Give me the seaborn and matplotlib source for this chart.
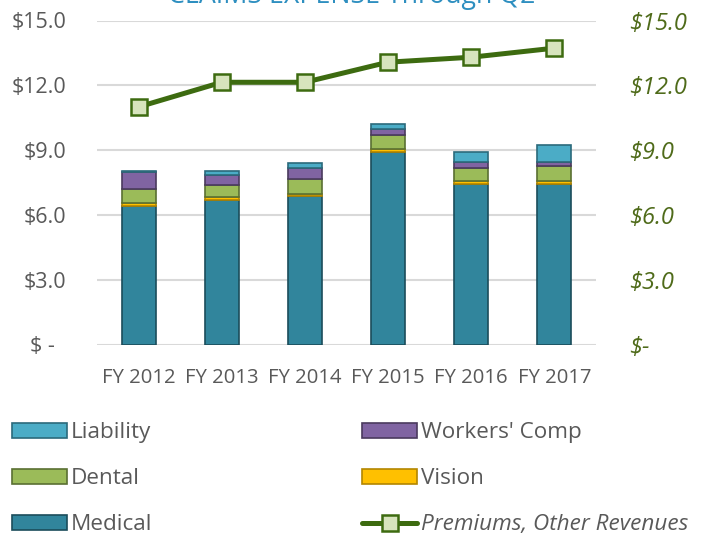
import numpy as np
import pandas as pd
import matplotlib
matplotlib.use("Agg")
import matplotlib.pyplot as plt
import seaborn as sns

years = ["FY 2012", "FY 2013", "FY 2014", "FY 2015", "FY 2016", "FY 2017"]
medical = [6.42, 6.71, 6.87, 8.92, 7.42, 7.42]
vision = [0.13, 0.14, 0.08, 0.11, 0.13, 0.13]
dental = [0.65, 0.52, 0.70, 0.66, 0.60, 0.70]
workers_comp = [0.80, 0.50, 0.50, 0.28, 0.30, 0.20]
liability = [0.05, 0.15, 0.26, 0.23, 0.47, 0.77]
premiums = [11.0, 12.14, 12.14, 13.07, 13.3, 13.72]
y_ticks = [0, 3, 6, 9, 12, 15]
left_labels = ["$ -  ", "$3.0", "$6.0", "$9.0", "$12.0", "$15.0"]
right_labels = ["$-", "$3.0", "$6.0", "$9.0", "$12.0", "$15.0"]
title = "CLAIMS EXPENSE Through Q2"

sns.set_theme(style="white")
plt.rcParams["font.family"] = ["Open Sans", "DejaVu Sans"]

W, H = 717, 536
fig = plt.figure(figsize=(W / 100, H / 100), dpi=100)
ax = fig.add_axes([97 / W, 1 - 344.5 / H, (596 - 97) / W, (344.5 - 20.5) / H])

series = [
    ("Medical", medical, "#31859c", "#1b4d5b"),
    ("Vision", vision, "#ffc000", "#b38600"),
    ("Dental", dental, "#9bbb59", "#5a7032"),
    ("Workers' Comp", workers_comp, "#8064a2", "#4a3a5e"),
    ("Liability", liability, "#4bacc6", "#2b6a7b"),
]
bottom = np.zeros(len(years))
for name, vals, col, edge in series:
    df = pd.DataFrame({"year": years, "val": vals})
    sns.barplot(data=df, x="year", y="val", order=years, color=col, width=0.41,
                bottom=bottom.copy(), edgecolor=edge, linewidth=1.2,
                label=name, ax=ax, saturation=1)
    bottom += np.array(vals)

ax.set_xlim(-0.5, len(years) - 0.5)
ax.set_ylim(0, 15)
ax.set_yticks(y_ticks)
ax.set_yticklabels(left_labels)
ax.set_xlabel("")
ax.set_ylabel("")
ax.yaxis.grid(True, color="#d9d9d9", linewidth=1.5)
ax.set_axisbelow(True)
for s in ax.spines.values():
    s.set_visible(False)
ax.tick_params(axis="y", length=0, pad=22, labelsize=15.5, labelcolor="#595959")
ax.tick_params(axis="x", length=0, pad=17, labelsize=14.6, labelcolor="#595959")

ax2 = ax.twinx()
ldf = pd.DataFrame({"x": np.arange(len(years)), "p": premiums})
sns.lineplot(data=ldf, x="x", y="p", ax=ax2, color="#3d6b10", linewidth=3.6,
             marker="s", markersize=11.5, markerfacecolor="#d7e4bd",
             markeredgecolor="#3d6b10", markeredgewidth=1.8,
             label="Premiums, Other Revenues", sort=False)
ax2.set_ylim(0, 15)
ax2.set_xlim(-0.5, len(years) - 0.5)
ax2.set_yticks(y_ticks)
ax2.set_yticklabels(right_labels, fontstyle="italic")
ax2.set_ylabel("")
ax2.set_xlabel("")
for s in ax2.spines.values():
    s.set_visible(False)
ax2.tick_params(axis="y", length=0, pad=24, labelsize=17, labelcolor="#4f6b1a")
if ax2.get_legend():
    ax2.get_legend().remove()
if ax.get_legend():
    ax.get_legend().remove()

h1, l1 = ax.get_legend_handles_labels()
h2, l2 = ax2.get_legend_handles_labels()
hd = dict(zip(l1 + l2, h1 + h2))
cols = [(["Liability", "Dental", "Medical"], 12),
        (["Workers' Comp", "Vision", "Premiums, Other Revenues"], 362)]
for names, x0 in cols:
    leg = fig.legend([hd[k] for k in names], names, ncol=1, loc="upper left",
                     bbox_to_anchor=(x0 / W, 1 - 422 / H), frameon=False,
                     fontsize=16.2, handlelength=2.45, handleheight=0.65,
                     handletextpad=0.18, labelspacing=1.12, borderpad=0,
                     borderaxespad=0, labelcolor="#595959")
    for t in leg.get_texts():
        if t.get_text().startswith("Premiums"):
            t.set_fontstyle("italic")

fig.text(352 / W, 1 - 3 / H, title, ha="center", va="baseline",
         fontsize=19.3, color="#2e8fc0")

fig.savefig("out.png", dpi=100)
